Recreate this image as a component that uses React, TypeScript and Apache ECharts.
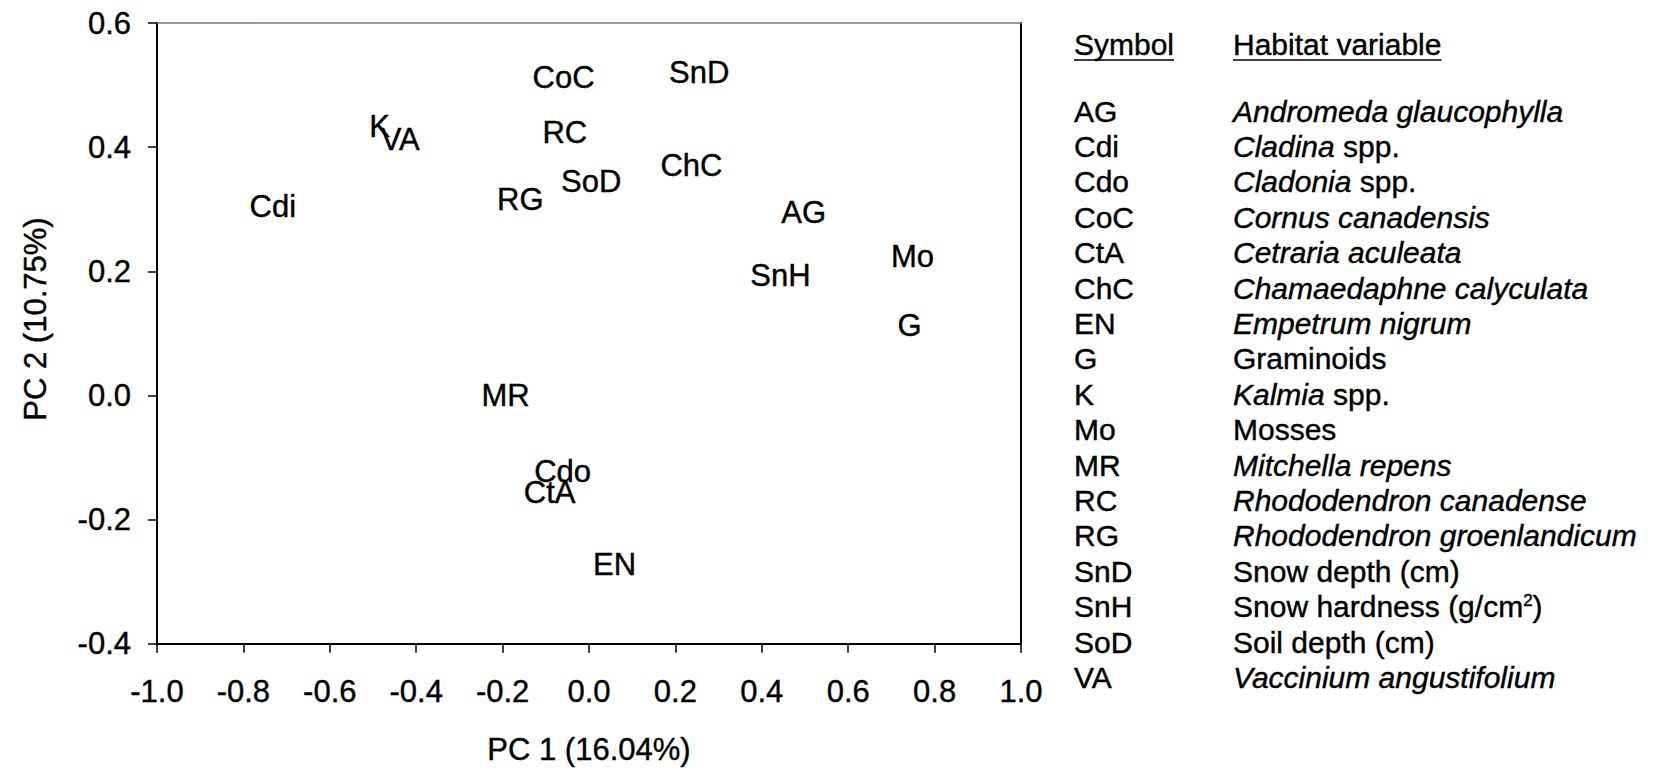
import React, { useEffect, useRef } from "react";
import * as echarts from "echarts";

// ---- data ----
const variableCodes = ["AG", "Cdi", "Cdo", "CoC", "CtA", "ChC", "EN", "G", "K", "Mo", "MR", "RC", "RG", "SnD", "SnH", "SoD", "VA"];
const pc1Loadings = [0.497, -0.732, -0.061, -0.059, -0.091, 0.237, 0.059, 0.742, -0.485, 0.749, -0.193, -0.056, -0.159, 0.255, 0.443, 0.005, -0.437];
const pc2Loadings = [0.295, 0.304, -0.122, 0.513, -0.156, 0.37, -0.273, 0.113, 0.434, 0.224, 0.0, 0.424, 0.316, 0.52, 0.193, 0.345, 0.413];

const xAxisTitle = "PC 1 (16.04%)";
const yAxisTitle = "PC 2 (10.75%)";

const legendHeaders = ["Symbol", "Habitat variable"];
const legendSymbols = ["AG", "Cdi", "Cdo", "CoC", "CtA", "ChC", "EN", "G", "K", "Mo", "MR", "RC", "RG", "SnD", "SnH", "SoD", "VA"];
const legendDescriptions = [
  "{i|Andromeda glaucophylla}",
  "{i|Cladina} spp.",
  "{i|Cladonia} spp.",
  "{i|Cornus canadensis}",
  "{i|Cetraria aculeata}",
  "{i|Chamaedaphne calyculata}",
  "{i|Empetrum nigrum}",
  "Graminoids",
  "{i|Kalmia} spp.",
  "Mosses",
  "{i|Mitchella repens}",
  "{i|Rhododendron canadense}",
  "{i|Rhododendron groenlandicum}",
  "Snow depth (cm)",
  "Snow hardness (g/cm{sup|2})",
  "Soil depth (cm)",
  "{i|Vaccinium angustifolium}",
];

const FONT = '"Liberation Sans", Arial, Helvetica, sans-serif';
const INK = "#000";
const HEAVY = { textBorderColor: "#000", textBorderWidth: 0.4 };

function fmt(v: number) {
  return (Math.abs(v) < 1e-9 ? 0 : v).toFixed(1);
}

function measure(text: string, size: number) {
  const c = document.createElement("canvas");
  const ctx = c.getContext("2d");
  if (!ctx) return text.length * size * 0.55;
  ctx.font = `${size}px ${FONT}`;
  return ctx.measureText(text).width;
}

export default function App() {
  const ref = useRef<HTMLDivElement>(null);

  useEffect(() => {
    if (!ref.current) return;
    const chart = echarts.init(ref.current, undefined, { renderer: "svg" });

    const legendFont = 30;
    const symX = 1074;
    const descX = 1233;
    const headerY = 44;
    const rowY0 = 111;
    const rowStep = 35.4;

    const legendChildren: any[] = [];
    legendHeaders.forEach((h, k) => {
      const x = k === 0 ? symX : descX;
      legendChildren.push({
        type: "text",
        x,
        y: headerY,
        style: { text: h, fontSize: legendFont, fontFamily: FONT, fill: INK, stroke: INK, lineWidth: 0.4, verticalAlign: "middle", align: "left" },
      });
      legendChildren.push({
        type: "line",
        shape: { x1: x, y1: headerY + 16, x2: x + measure(h, legendFont), y2: headerY + 16 },
        style: { stroke: INK, lineWidth: 1.5 },
      });
    });
    legendSymbols.forEach((s, i) => {
      const y = rowY0 + i * rowStep;
      legendChildren.push({
        type: "text",
        x: symX,
        y,
        style: { text: s, fontSize: legendFont, fontFamily: FONT, fill: INK, stroke: INK, lineWidth: 0.4, verticalAlign: "middle", align: "left" },
      });
      legendChildren.push({
        type: "text",
        x: descX,
        y,
        style: {
          text: legendDescriptions[i],
          fontSize: legendFont,
          fontFamily: FONT,
          fill: INK,
          stroke: INK,
          lineWidth: 0.4,
          lineHeight: 30,
          verticalAlign: "middle",
          align: "left",
          rich: {
            i: { fontStyle: "italic", fontSize: legendFont, fontFamily: FONT, fill: INK, lineHeight: 30 },
            sup: { fontSize: 17, fontFamily: FONT, fill: INK, verticalAlign: "top", lineHeight: 17 },
          },
        },
      });
    });

    const axisLabelStyle = { fontSize: 31, fontFamily: FONT, color: INK, ...HEAVY };

    chart.setOption({
      animation: false,
      backgroundColor: "#fff",
      grid: { left: 157, top: 23, width: 864, height: 622, containLabel: false },
      xAxis: [
        {
          type: "value",
          min: -1,
          max: 1,
          interval: 0.2,
          position: "bottom",
          axisLine: { show: true, onZero: false, lineStyle: { color: "#000", width: 2 } },
          axisTick: { show: true, inside: false, length: 9, lineStyle: { color: "#000", width: 1.5 } },
          axisLabel: { ...axisLabelStyle, margin: 32, formatter: fmt },
          splitLine: { show: false },
          name: xAxisTitle,
          nameLocation: "middle",
          nameGap: 90,
          nameTextStyle: { fontSize: 31, fontFamily: FONT, color: INK, ...HEAVY },
        },
        {
          type: "value",
          min: -1,
          max: 1,
          position: "top",
          axisLine: { show: true, onZero: false, lineStyle: { color: "#777", width: 1.5 } },
          axisTick: { show: false },
          axisLabel: { show: false },
          splitLine: { show: false },
        },
      ],
      yAxis: [
        {
          type: "value",
          min: -0.4,
          max: 0.6,
          interval: 0.2,
          position: "left",
          axisLine: { show: true, onZero: false, lineStyle: { color: "#000", width: 2 } },
          axisTick: { show: true, inside: false, length: 9, lineStyle: { color: "#000", width: 1.5 } },
          axisLabel: { ...axisLabelStyle, margin: 26, formatter: fmt },
          splitLine: { show: false },
        },
        {
          type: "value",
          min: -0.4,
          max: 0.6,
          position: "right",
          axisLine: { show: true, onZero: false, lineStyle: { color: "#000", width: 2 } },
          axisTick: { show: false },
          axisLabel: { show: false },
          splitLine: { show: false },
        },
      ],
      series: [
        {
          type: "scatter",
          xAxisIndex: 0,
          yAxisIndex: 0,
          symbol: "circle",
          symbolSize: 1,
          itemStyle: { color: "rgba(0,0,0,0)", opacity: 1 },
          data: variableCodes.map((c, i) => ({ name: c, value: [pc1Loadings[i], pc2Loadings[i]] })),
          label: {
            show: true,
            position: "inside",
            formatter: "{b}",
            fontSize: 31,
            fontFamily: FONT,
            color: INK,
            opacity: 1,
            ...HEAVY,
          },
          emphasis: { disabled: true },
        },
      ],
      graphic: [
        {
          type: "text",
          x: 35,
          y: 319,
          rotation: Math.PI / 2,
          style: { text: yAxisTitle, fontSize: 31, fontFamily: FONT, fill: INK, stroke: INK, lineWidth: 0.4, align: "center", verticalAlign: "middle" },
        },
        { type: "group", children: legendChildren },
      ],
    });

    return () => chart.dispose();
  }, []);

  return (
    <div
      ref={ref}
      style={{ position: "fixed", left: 0, top: 0, width: 1658, height: 770, background: "#fff" }}
    />
  );
}
